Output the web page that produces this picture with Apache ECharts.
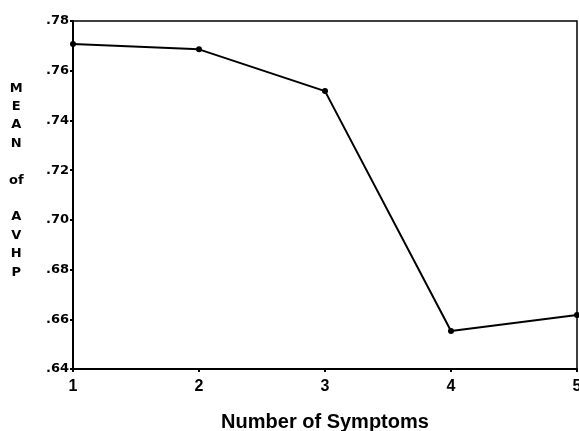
<!DOCTYPE html>
<html>
<head>
<meta charset="utf-8">
<script src="https://cdn.jsdelivr.net/npm/echarts@6/dist/echarts.min.js"></script>
<style>
html,body{margin:0;padding:0;background:#fff;}
#chart{width:579px;height:431px;}
</style>
</head>
<body>
<div id="chart"></div>
<script>
const symptoms = ['1', '2', '3', '4', '5'];
const meanAVHP = [0.7707, 0.7686, 0.7518, 0.6553, 0.6617];
const yTitle = 'M\nE\nA\nN\n\nof\n\nA\nV\nH\nP';
const xTitle = 'Number of Symptoms';

const chart = echarts.init(document.getElementById('chart'));
chart.setOption({
  animation: false,
  backgroundColor: '#fff',
  grid: { left: 73, right: 2, top: 21, bottom: 62, show: true, borderColor: '#000', borderWidth: 1.5,
    backgroundColor: 'transparent', containLabel: false, outerBoundsMode: 'none' },
  graphic: [{
    type: 'text', left: 9, top: 79,
    style: { text: yTitle, fill: '#000', font: 'bold 13px "DejaVu Sans"', lineHeight: 18.4, textAlign: 'center', x: 7 }
  }],
  xAxis: {
    type: 'category', data: symptoms, boundaryGap: false,
    name: xTitle, nameLocation: 'middle', nameGap: 43,
    nameTextStyle: { fontFamily: 'Liberation Sans', fontWeight: 'bold', fontSize: 20, color: '#000' },
    axisLine: { lineStyle: { color: '#000', width: 2 } },
    axisTick: { show: true, length: 3, lineStyle: { color: '#000', width: 2 } },
    axisLabel: { fontFamily: 'Liberation Sans', fontWeight: 'bold', fontSize: 16, color: '#000', margin: 10 },
    splitLine: { show: false }
  },
  yAxis: {
    type: 'value', min: 0.64, max: 0.78, interval: 0.02,
    axisLine: { show: true, lineStyle: { color: '#000', width: 2 } },
    axisTick: { show: true, length: 3, lineStyle: { color: '#000', width: 2 } },
    axisLabel: { fontFamily: 'DejaVu Sans', fontWeight: 'bold', fontSize: 13, color: '#000', margin: 4,
      formatter: v => v.toFixed(2).replace(/^0/, '') },
    splitLine: { show: false }
  },
  series: [{
    type: 'line', data: meanAVHP,
    symbol: 'circle', symbolSize: 6,
    itemStyle: { color: '#000' },
    lineStyle: { color: '#000', width: 2 }
  }]
});
</script>
</body>
</html>
